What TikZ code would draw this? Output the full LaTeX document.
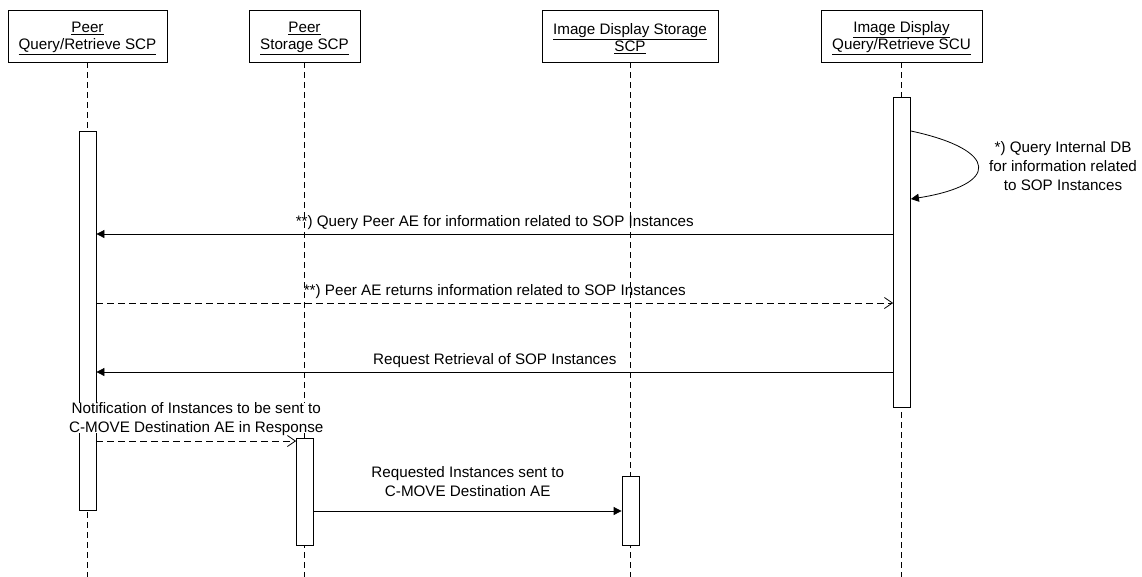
\documentclass[tikz,border=0pt]{standalone}
\usepackage{fontspec}
\setmainfont{Liberation Sans}
\usetikzlibrary{arrows.meta}
\newcommand{\topstrut}{\rule{0pt}{16pt}}
\begin{document}
\begin{tikzpicture}[x=1pt,y=-1pt,
  every node/.style={font=\fontsize{15.2}{19}\selectfont},
  actor/.style={draw, line width=0.9pt, minimum height=52pt, inner sep=0pt, align=center, font=\fontsize{15.2}{17}\selectfont},
  life/.style={line width=0.8pt, dash pattern=on 6pt off 4pt},
  bar/.style={draw, fill=white, line width=0.8pt, minimum width=17pt, inner sep=0pt, anchor=north},
  sync/.style={line width=0.8pt, -{Triangle[length=8pt,width=8pt]}},
  reply/.style={line width=0.8pt, dash pattern=on 7pt off 4pt, -{Straight Barb[length=8pt,width=11pt]}},
  lbl/.style={inner sep=0pt, text depth=0pt, anchor=south, align=center}]
\useasboundingbox (0,0) rectangle (1142,576);

% actors
\node[actor, minimum width=159pt] (A1) at (87.5,36) {\topstrut\underline{Peer}\\\underline{Query/Retrieve SCP}};
\node[actor, minimum width=111pt] (A2) at (304.5,36) {\topstrut\underline{Peer}\\\underline{Storage SCP}};
\node[actor, minimum width=176pt] (A3) at (630,36) {\topstrut\underline{Image Display Storage}\\\underline{SCP}};
\node[actor, minimum width=161pt] (A4) at (901.5,36) {\topstrut\underline{Image Display}\\\underline{Query/Retrieve SCU}};

\coordinate (bottom) at (0,578);

% lifelines
\draw[life] (A1.south) -- (A1.south |- bottom);
\draw[life] (A2.south) -- (A2.south |- bottom);
\draw[life] (A3.south) -- (A3.south |- bottom);
\draw[life] (A4.south) -- (A4.south |- bottom);

% activation bars
\node[bar, minimum height=379pt] (B1) at (87.5,131) {};
\node[bar, minimum height=310pt] (B4) at (902,97) {};
\node[bar, minimum height=107pt] (B2) at (305,438) {};
\node[bar, minimum height=69pt] (B3) at (630.5,476) {};

% self call
\draw[sync] (B4.east |- 0,131) .. controls (1000,150) and (1000,185) .. (B4.east |- 0,199);
\node[lbl] (L0) at (1063,190.5) {*) Query Internal DB\\for information related\\to SOP Instances};

% messages
\draw[sync] (B4.west |- 0,234) -- node[lbl, yshift=7.5pt] (L1) {**) Query Peer AE for information related to SOP Instances} (B1.east |- 0,234);
\draw[reply] (B1.east |- 0,303) -- node[lbl, yshift=7.5pt] (L2) {**) Peer AE returns information related to SOP Instances} (B4.west |- 0,303);
\draw[sync] (B4.west |- 0,372) -- node[lbl, yshift=7.5pt] (L3) {Request Retrieval of SOP Instances} (B1.east |- 0,372);
\draw[reply] (B1.east |- 0,441) -- node[lbl, fill=white, yshift=8pt] (L4) {Notification of Instances to be sent to\\C-MOVE Destination AE in Response} (B2.west |- 0,441);
\draw[sync] (B2.east |- 0,511) -- node[lbl, yshift=14.5pt] (L5) {Requested Instances sent to\\C-MOVE Destination AE} (B3.west |- 0,511);
\end{tikzpicture}
\end{document}
